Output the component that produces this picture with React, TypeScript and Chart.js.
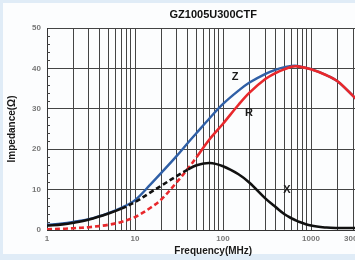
import React, { useEffect, useRef } from "react";
import { Chart, registerables } from "chart.js";

Chart.register(...registerables);

const chartTitle = "GZ1005U300CTF";
const xAxisTitle = "Frequency(MHz)";
const yAxisTitle = "Impedance(Ω)";

const freqs = [1, 1.5, 2, 3, 5, 7, 10, 15, 20, 30, 40, 50, 70, 100, 150, 200, 300, 400, 500, 600, 700, 1000, 1500, 2000, 3000, 4000, 6000];
const zVals = [1.3, 1.6, 2.0, 2.7, 4.2, 5.5, 7.4, 11.3, 14.2, 18.4, 21.6, 24.0, 27.6, 31.2, 34.5, 36.5, 38.6, 39.7, 40.3, 40.6, 40.6, 39.8, 38.3, 36.8, 33.2, 30.5, 26.0];
const rVals = [0.2, 0.3, 0.45, 0.7, 1.3, 2.0, 3.2, 5.5, 7.6, 11.9, 15.2, 18.0, 22.4, 26.3, 31.0, 34.0, 37.3, 38.9, 39.8, 40.4, 40.5, 39.8, 38.3, 36.8, 33.2, 30.5, 26.0];
const xVals = [1.1, 1.4, 1.8, 2.6, 4.1, 5.3, 6.9, 9.3, 11.0, 13.4, 15.0, 16.0, 16.6, 15.8, 13.8, 11.7, 7.9, 5.6, 3.9, 2.9, 2.2, 1.1, 0.6, 0.5, 0.5, 0.5, 0.5];

const xTickLabels = [1, 10, 100, 1000, 3000];
const yTicks = [0, 10, 20, 30, 40, 50];

const curveNames = ["Z", "R", "X"];
const curveLabelFreqs = [137, 197, 534];
const curveLabelVals = [37.9, 29.0, 9.9];

const FONT = "'Liberation Sans', Arial, sans-serif";

const gridVals: number[] = [];
for (let d = 1; d <= 1000; d *= 10) {
  for (let m = 1; m <= 9; m++) gridVals.push(m * d);
}
gridVals.push(6000);

const overlayPlugin = {
  id: "overlay",
  afterDatasetsDraw(chart: any) {
    const { ctx, scales } = chart;
    const xs = scales.x;
    const ys = scales.y;
    ctx.save();
    ctx.strokeStyle = "#444";
    ctx.lineWidth = 1;
    for (let v = 0; v <= 50; v += 2) {
      if (v % 10 === 0) continue;
      const y = Math.round(ys.getPixelForValue(v)) + 0.5;
      ctx.beginPath();
      ctx.moveTo(xs.left, y);
      ctx.lineTo(xs.left + 3, y);
      ctx.stroke();
    }
    ctx.fillStyle = "#1a1a1a";
    ctx.font = "bold 11px " + FONT;
    ctx.textAlign = "center";
    ctx.textBaseline = "middle";
    curveNames.forEach((n, i) => {
      ctx.fillText(n, xs.getPixelForValue(curveLabelFreqs[i]), ys.getPixelForValue(curveLabelVals[i]));
    });
    ctx.restore();
  },
};

export default function App() {
  const ref = useRef<HTMLCanvasElement | null>(null);

  useEffect(() => {
    if (!ref.current) return;
    const pts = (vals: number[]) => freqs.map((f, i) => ({ x: f, y: vals[i] }));
    const chart = new Chart(ref.current, {
      type: "line",
      data: {
        datasets: [
          {
            label: "X",
            data: pts(xVals),
            borderColor: "#111111",
            borderWidth: 2.6,
            pointRadius: 0,
            tension: 0.35,
            order: 1,
            segment: {
              borderDash: (c: any) => (c.p0.parsed.x >= 7 && c.p1.parsed.x <= 40 ? [5, 3] : undefined),
            },
          },
          {
            label: "R",
            data: pts(rVals),
            borderColor: "#e8282c",
            borderWidth: 2.6,
            pointRadius: 0,
            tension: 0.35,
            order: 2,
            segment: {
              borderDash: (c: any) => (c.p1.parsed.x <= 50 ? [5, 3] : undefined),
            },
          },
          {
            label: "Z",
            data: pts(zVals),
            borderColor: "#2f5fa6",
            borderWidth: 2.4,
            pointRadius: 0,
            tension: 0.35,
            order: 3,
          },
        ],
      },
      options: {
        responsive: false,
        animation: false,
        layout: { padding: { left: 0, right: 10.5, top: 0, bottom: 0 } },
        plugins: {
          legend: { display: false },
          tooltip: { enabled: false },
          title: {
            display: true,
            text: chartTitle,
            fullSize: false,
            color: "#111",
            font: { family: FONT, size: 11, weight: "bold" },
            padding: { top: 8, bottom: 6.8 },
          },
        },
        scales: {
          x: {
            type: "logarithmic",
            min: 1,
            max: 6000,
            afterBuildTicks: (s: any) => {
              s.ticks = gridVals.map((v) => ({ value: v }));
            },
            afterFit: (s: any) => {
              s.height = 30;
            },
            ticks: {
              autoSkip: false,
              maxRotation: 0,
              padding: 4,
              color: "#777",
              font: { family: FONT, size: 8, weight: "bold" },
              callback: (v: any) => (xTickLabels.includes(Number(v)) ? String(v) : ""),
            },
            grid: { color: "#444", lineWidth: 1, drawTicks: false },
            border: { color: "#333" },
            title: {
              display: true,
              text: xAxisTitle,
              color: "#1a1a1a",
              font: { family: FONT, size: 10, weight: "bold" },
              padding: { top: 0, bottom: 3 },
            },
          },
          y: {
            min: 0,
            max: 50,
            afterBuildTicks: (s: any) => {
              s.ticks = yTicks.map((v) => ({ value: v }));
            },
            afterFit: (s: any) => {
              s.width = 47;
            },
            ticks: {
              padding: 6,
              color: "#777",
              font: { family: FONT, size: 8, weight: "bold" },
            },
            grid: { color: "#444", lineWidth: 1, drawTicks: false },
            border: { color: "#333" },
            title: {
              display: true,
              text: yAxisTitle,
              color: "#1a1a1a",
              font: { family: FONT, size: 10, weight: "bold" },
              padding: { top: 6, bottom: 0 },
            },
          },
        },
      },
      plugins: [overlayPlugin],
    });
    return () => chart.destroy();
  }, []);

  return (
    <div
      style={{
        position: "fixed",
        left: 0,
        top: 0,
        width: 355,
        height: 260,
        overflow: "hidden",
        background: "#e0ecf7",
      }}
    >
      <div
        style={{
          position: "absolute",
          left: 3,
          top: 3,
          width: 400,
          height: 251,
          background: "#fcfdfe",
        }}
      />
      <canvas
        ref={ref}
        width={390}
        height={260}
        style={{ position: "absolute", left: 0, top: 0, width: 390, height: 260 }}
      />
    </div>
  );
}
